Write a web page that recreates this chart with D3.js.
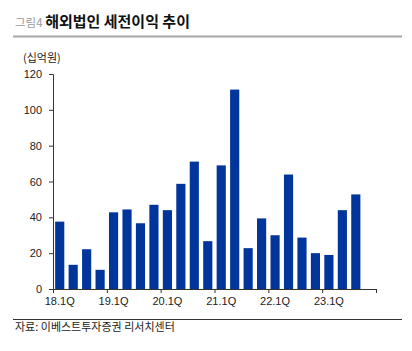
<!DOCTYPE html>
<html>
<head>
<meta charset="utf-8">
<script src="https://cdn.jsdelivr.net/npm/d3@7"></script>
<style>
  body { margin: 0; background: #fff; }
  svg { display: block; font-family: "Liberation Sans", Arial, sans-serif; }
  .kr { font-family: "Noto Sans CJK KR", sans-serif; }
</style>
</head>
<body>
<div id="chart"></div>
<script>
// quarters 18.1Q ~ 23.4Q (last slot empty)
var quarters = ["18.1Q","18.2Q","18.3Q","18.4Q","19.1Q","19.2Q","19.3Q","19.4Q",
  "20.1Q","20.2Q","20.3Q","20.4Q","21.1Q","21.2Q","21.3Q","21.4Q",
  "22.1Q","22.2Q","22.3Q","22.4Q","23.1Q","23.2Q","23.3Q","23.4Q"];
var profit = [37.6, 13.5, 22.2, 10.7, 42.8, 44.4, 36.7, 47.0, 44.0, 58.7, 71.1, 26.7,
  69.0, 111.3, 22.8, 39.4, 30.0, 63.9, 28.7, 20.0, 19.0, 44.0, 52.8];
var yTicks = [0, 20, 40, 60, 80, 100, 120];
var xLabels = ["18.1Q","19.1Q","20.1Q","21.1Q","22.1Q","23.1Q"];

var W = 412, H = 351;
var svg = d3.select("#chart").append("svg")
  .attr("width", W).attr("height", H);

// title
var title = svg.append("text").attr("class", "kr").attr("x", 15).attr("y", 27);
title.append("tspan").attr("fill", "#9a9a9a").attr("font-size", 11.5).text("그림4 ");
title.append("tspan").attr("fill", "#111").attr("font-size", 15).attr("font-weight", "bold")
  .text("해외법인 세전이익 추이");

svg.append("line").attr("x1", 13).attr("x2", 402).attr("y1", 36.5).attr("y2", 36.5)
  .attr("stroke", "#a6a6a6").attr("stroke-width", 2);

svg.append("text").attr("class", "kr").attr("x", 23).attr("y", 62)
  .attr("font-size", 11).attr("fill", "#222").text("(십억원)");

var plotLeft = 53, plotRight = 376, plotTop = 74, plotBottom = 289;

var x = d3.scaleBand().domain(quarters).range([plotLeft, plotRight]).paddingInner(0.32).paddingOuter(0.16);
var xLin = d3.scaleLinear().domain([0, 24]).range([plotLeft, plotRight]);
var y = d3.scaleLinear().domain([0, 120]).range([plotBottom, plotTop]);

// y axis
var yAxis = svg.append("g").attr("transform", "translate(" + plotLeft + ",0)")
  .call(d3.axisLeft(y).tickValues(yTicks).tickSize(4).tickPadding(7));
yAxis.select(".domain").attr("stroke", "#333");
yAxis.selectAll(".tick line").attr("stroke", "#333");
yAxis.selectAll("text").attr("font-size", 11).attr("fill", "#222")
  .attr("font-family", "Liberation Sans Narrow, Liberation Sans, sans-serif");

// bars
svg.append("g").selectAll("rect")
  .data(profit)
  .enter().append("rect")
    .attr("x", function(d, i) { return x(quarters[i]); })
    .attr("y", function(d) { return y(d); })
    .attr("width", x.bandwidth())
    .attr("height", function(d) { return y(0) - y(d); })
    .attr("fill", "#00359c");

// x axis
var xAxis = svg.append("g").attr("transform", "translate(0," + plotBottom + ")")
  .call(d3.axisBottom(xLin).tickValues([0, 4, 8, 12, 16, 20, 24]).tickSize(4).tickFormat(""));
xAxis.select(".domain").attr("stroke", "#333");
xAxis.selectAll(".tick line").attr("stroke", "#333");

svg.append("g").selectAll("text")
  .data(xLabels)
  .enter().append("text")
    .attr("x", function(d) { return x(d) + x.bandwidth() / 2; })
    .attr("y", 305)
    .attr("text-anchor", "middle")
    .attr("font-size", 11)
    .attr("fill", "#222")
    .attr("font-family", "Liberation Sans Narrow, Liberation Sans, sans-serif")
    .text(function(d) { return d; });

// source
svg.append("line").attr("x1", 13).attr("x2", 402).attr("y1", 319.5).attr("y2", 319.5)
  .attr("stroke", "#333").attr("stroke-width", 1);
svg.append("text").attr("class", "kr").attr("x", 15).attr("y", 331)
  .attr("font-size", 11).attr("fill", "#222").text("자료: 이베스트투자증권 리서치센터");
</script>
</body>
</html>
